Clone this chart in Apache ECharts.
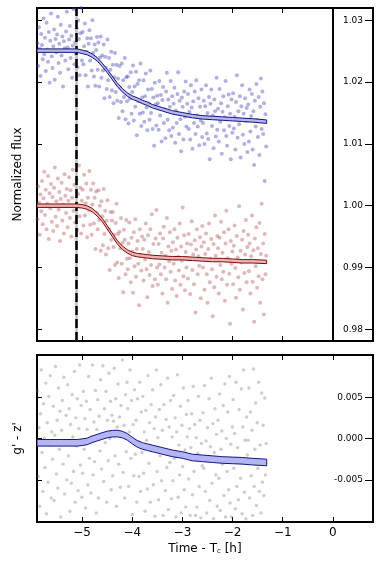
<!DOCTYPE html>
<html><head><meta charset="utf-8">
<script src="https://cdn.jsdelivr.net/npm/echarts@6/dist/echarts.min.js"></script>
<style>html,body{margin:0;padding:0;background:#fff}#c{width:383px;height:561px}</style>
</head><body><div id="c"></div>
<script>
const t = [
-5.89,-5.875,-5.86,-5.845,-5.83,-5.815,-5.8,-5.785,-5.77,-5.755,-5.74,-5.725,-5.71,-5.695,-5.68,-5.665,-5.65,-5.635,-5.62,-5.605,
-5.59,-5.575,-5.56,-5.545,-5.53,-5.515,-5.5,-5.485,-5.47,-5.455,-5.44,-5.425,-5.41,-5.395,-5.38,-5.365,-5.35,-5.335,-5.32,-5.305,
-5.29,-5.275,-5.26,-5.245,-5.23,-5.215,-5.2,-5.185,-5.17,-5.155,-5.14,-5.125,-5.11,-5.095,-5.08,-5.065,-5.05,-5.035,-5.02,-5.005,
-4.99,-4.975,-4.96,-4.945,-4.93,-4.915,-4.9,-4.885,-4.87,-4.855,-4.84,-4.825,-4.81,-4.795,-4.78,-4.765,-4.75,-4.735,-4.72,-4.705,
-4.69,-4.675,-4.66,-4.645,-4.63,-4.615,-4.6,-4.585,-4.57,-4.555,-4.54,-4.525,-4.51,-4.495,-4.48,-4.465,-4.45,-4.435,-4.42,-4.405,
-4.39,-4.375,-4.36,-4.345,-4.33,-4.315,-4.3,-4.285,-4.27,-4.255,-4.24,-4.225,-4.21,-4.195,-4.18,-4.165,-4.15,-4.135,-4.12,-4.105,
-4.09,-4.075,-4.06,-4.045,-4.03,-4.015,-4,-3.985,-3.97,-3.955,-3.94,-3.925,-3.91,-3.895,-3.88,-3.865,-3.85,-3.835,-3.82,-3.805,
-3.79,-3.775,-3.76,-3.745,-3.73,-3.715,-3.7,-3.685,-3.67,-3.655,-3.64,-3.625,-3.61,-3.595,-3.58,-3.565,-3.55,-3.535,-3.52,-3.505,
-3.49,-3.475,-3.46,-3.445,-3.43,-3.415,-3.4,-3.385,-3.37,-3.355,-3.34,-3.325,-3.31,-3.295,-3.28,-3.265,-3.25,-3.235,-3.22,-3.205,
-3.19,-3.175,-3.16,-3.145,-3.13,-3.115,-3.1,-3.085,-3.07,-3.055,-3.04,-3.025,-3.01,-2.995,-2.98,-2.965,-2.95,-2.935,-2.92,-2.905,
-2.89,-2.875,-2.86,-2.845,-2.83,-2.815,-2.8,-2.785,-2.77,-2.755,-2.74,-2.725,-2.71,-2.695,-2.68,-2.665,-2.65,-2.635,-2.62,-2.605,
-2.59,-2.575,-2.56,-2.545,-2.53,-2.515,-2.5,-2.485,-2.47,-2.455,-2.44,-2.425,-2.41,-2.395,-2.38,-2.365,-2.35,-2.335,-2.32,-2.305,
-2.29,-2.275,-2.26,-2.245,-2.23,-2.215,-2.2,-2.185,-2.17,-2.155,-2.14,-2.125,-2.11,-2.095,-2.08,-2.065,-2.05,-2.035,-2.02,-2.005,
-1.99,-1.975,-1.96,-1.945,-1.93,-1.915,-1.9,-1.885,-1.87,-1.855,-1.84,-1.825,-1.81,-1.795,-1.78,-1.765,-1.75,-1.735,-1.72,-1.705,
-1.69,-1.675,-1.66,-1.645,-1.63,-1.615,-1.6,-1.585,-1.57,-1.555,-1.54,-1.525,-1.51,-1.495,-1.48,-1.465,-1.45,-1.435,-1.42,-1.405,
-1.39,-1.375,-1.36,-1.345,-1.33];

const gFlux = [
1.0263,1.0226,1.0289,1.0254,1.0210,1.0278,1.0260,1.0237,1.0303,1.0245,1.0272,1.0218,1.0296,1.0253,1.0233,1.0281,1.0199,1.0267,1.0311,1.0242,
1.0223,1.0258,1.0285,1.0204,1.0270,1.0248,1.0277,1.0306,1.0231,1.0262,1.0215,1.0293,1.0243,1.0274,1.0193,1.0266,1.0255,1.0235,1.0282,1.0314,
1.0256,1.0221,1.0269,1.0291,1.0239,1.0275,1.0207,1.0259,1.0318,1.0229,1.0264,1.0246,1.0287,1.0224,1.0300,1.0270,1.0211,1.0279,1.0320,1.0235,
1.0281,1.0229,1.0258,1.0295,1.0211,1.0249,1.0271,1.0193,1.0262,1.0284,1.0235,1.0271,1.0219,1.0300,1.0247,1.0209,1.0261,1.0194,1.0252,1.0273,
1.0220,1.0264,1.0193,1.0240,1.0274,1.0207,1.0243,1.0219,1.0261,1.0174,1.0241,1.0223,1.0189,1.0269,1.0203,1.0239,1.0176,1.0220,1.0249,1.0187,
1.0228,1.0166,1.0208,1.0247,1.0184,1.0228,1.0170,1.0206,1.0142,1.0226,1.0191,1.0168,1.0230,1.0153,1.0203,1.0176,1.0239,1.0140,1.0208,1.0169,
1.0209,1.0133,1.0192,1.0173,1.0216,1.0149,1.0184,1.0227,1.0138,1.0193,1.0160,1.0217,1.0114,1.0197,1.0169,1.0203,1.0149,1.0230,1.0129,1.0175,
1.0151,1.0203,1.0136,1.0177,1.0214,1.0159,1.0122,1.0188,1.0166,1.0139,1.0219,1.0150,1.0189,1.0124,1.0175,1.0097,1.0199,1.0164,1.0130,1.0178,
1.0166,1.0123,1.0202,1.0146,1.0179,1.0104,1.0171,1.0192,1.0134,1.0156,1.0109,1.0185,1.0215,1.0139,1.0172,1.0122,1.0160,1.0202,1.0113,1.0177,
1.0126,1.0165,1.0191,1.0102,1.0154,1.0134,1.0181,1.0216,1.0116,1.0170,1.0140,1.0088,1.0175,1.0160,1.0107,1.0185,1.0144,1.0201,1.0128,1.0165,
1.0181,1.0124,1.0152,1.0107,1.0195,1.0159,1.0092,1.0169,1.0134,1.0185,1.0116,1.0203,1.0146,1.0128,1.0174,1.0098,1.0160,1.0138,1.0188,1.0111,
1.0134,1.0170,1.0100,1.0161,1.0195,1.0117,1.0150,1.0108,1.0176,1.0075,1.0165,1.0188,1.0129,1.0146,1.0093,1.0172,1.0153,1.0112,1.0207,1.0123,
1.0157,1.0104,1.0189,1.0136,1.0166,1.0084,1.0152,1.0177,1.0122,1.0143,1.0202,1.0113,1.0097,1.0161,1.0180,1.0129,1.0149,1.0075,1.0172,1.0118,
1.0182,1.0125,1.0144,1.0091,1.0168,1.0211,1.0110,1.0153,1.0132,1.0177,1.0078,1.0161,1.0195,1.0115,1.0149,1.0100,1.0174,1.0137,1.0158,1.0087,
1.0164,1.0104,1.0188,1.0120,1.0145,1.0181,1.0091,1.0153,1.0066,1.0170,1.0128,1.0197,1.0139,1.0111,1.0176,1.0082,1.0160,1.0206,1.0124,1.0185,
1.0116,1.0166,1.0040,1.0148,1.0096];

const zFlux = [
0.9978,1.0031,1.0005,0.9953,1.0018,0.9991,1.0040,0.9970,1.0012,1.0055,0.9985,1.0026,0.9962,1.0003,1.0048,0.9946,1.0020,0.9996,1.0035,0.9974,
1.0014,0.9959,1.0029,1.0062,0.9982,1.0007,0.9967,1.0044,0.9994,1.0022,0.9943,1.0011,1.0037,0.9976,1.0002,0.9955,1.0051,1.0016,0.9988,1.0027,
0.9965,1.0008,1.0046,0.9980,1.0025,0.9950,1.0013,1.0058,0.9992,1.0034,0.9973,1.0001,1.0042,0.9961,1.0019,1.0065,0.9983,1.0029,0.9955,1.0008,
1.0026,0.9968,1.0050,0.9984,1.0004,1.0036,0.9949,1.0013,0.9993,1.0056,0.9969,1.0026,0.9953,1.0002,1.0036,0.9971,1.0013,0.9930,1.0023,0.9988,
0.9962,1.0025,0.9977,1.0000,0.9927,1.0007,0.9983,0.9936,1.0027,0.9954,0.9992,0.9921,0.9976,1.0009,0.9931,0.9962,0.9896,0.9990,0.9945,0.9976,
0.9990,0.9933,0.9953,0.9904,0.9972,1.0003,0.9908,0.9954,0.9883,0.9958,0.9931,0.9980,0.9906,0.9940,0.9860,0.9961,0.9945,0.9889,0.9977,0.9914,
0.9897,0.9939,0.9973,0.9915,0.9876,0.9948,0.9926,0.9859,0.9957,0.9902,0.9978,0.9885,0.9930,0.9943,0.9906,0.9839,0.9962,0.9920,0.9895,0.9950,
0.9930,0.9879,0.9945,0.9913,0.9971,0.9897,0.9852,0.9952,0.9925,0.9888,0.9962,0.9904,0.9986,0.9870,0.9938,0.9916,0.9881,0.9947,0.9993,0.9900,
0.9872,0.9938,0.9905,0.9955,0.9889,0.9924,0.9858,0.9947,0.9966,0.9900,0.9919,0.9881,0.9980,0.9843,0.9934,0.9910,0.9957,0.9893,0.9927,0.9865,
0.9941,0.9906,0.9962,0.9879,0.9929,0.9854,0.9948,0.9917,0.9895,0.9971,0.9872,0.9934,0.9911,0.9997,0.9886,0.9952,0.9863,0.9925,0.9900,0.9939,
0.9882,0.9954,0.9913,0.9857,0.9937,0.9975,0.9896,0.9921,0.9873,0.9944,0.9827,0.9929,0.9962,0.9889,0.9918,0.9903,0.9949,0.9850,0.9934,0.9967,
0.9900,0.9941,0.9864,0.9922,0.9955,0.9889,0.9843,0.9930,0.9971,0.9876,0.9914,0.9946,0.9897,0.9821,0.9938,0.9868,0.9984,0.9919,0.9885,0.9951,
0.9931,0.9858,0.9948,0.9904,0.9974,0.9881,0.9924,0.9893,0.9957,0.9846,0.9939,0.9992,0.9872,0.9915,0.9962,0.9890,0.9809,0.9943,0.9906,0.9926,
0.9873,0.9935,0.9968,0.9899,0.9851,0.9951,0.9916,0.9884,0.9999,0.9864,0.9927,0.9908,0.9945,0.9832,0.9959,0.9891,0.9921,0.9977,0.9876,0.9933,
0.9953,0.9894,0.9939,0.9858,0.9918,0.9984,0.9877,0.9928,0.9812,0.9947,0.9902,0.9965,0.9867,0.9931,0.9886,0.9972,0.9843,0.9922,1.0003,0.9881,
0.9939,0.9824,0.9954,0.9889,0.9919];

const gzColor = [
0.0058,-0.0046,0.0013,-0.0082,0.0030,0.0083,-0.0017,-0.0064,0.0042,0.0000,-0.0035,0.0067,-0.0091,0.0019,-0.0053,0.0051,-0.0008,0.0076,-0.0072,0.0008,
-0.0025,0.0039,-0.0075,0.0004,0.0087,-0.0043,0.0022,-0.0060,0.0061,-0.0013,0.0033,-0.0095,0.0010,0.0046,-0.0031,0.0074,-0.0067,-0.0003,0.0028,-0.0050,
0.0065,-0.0021,0.0036,-0.0088,0.0017,-0.0054,0.0053,0.0002,-0.0040,0.0081,-0.0077,0.0025,-0.0009,0.0048,-0.0063,0.0012,0.0089,-0.0032,0.0040,-0.0071,
-0.0042,0.0057,-0.0013,0.0024,-0.0084,0.0045,0.0011,-0.0056,0.0075,-0.0024,0.0035,-0.0066,0.0002,0.0089,-0.0044,0.0020,-0.0028,0.0058,-0.0090,0.0011,
0.0047,-0.0072,0.0027,-0.0015,0.0071,-0.0037,0.0006,0.0088,-0.0052,0.0036,-0.0005,0.0057,-0.0077,0.0022,-0.0027,0.0079,0.0000,0.0045,-0.0062,0.0028,
-0.0045,0.0021,0.0085,-0.0021,0.0048,-0.0082,0.0014,0.0066,-0.0031,0.0026,-0.0059,0.0040,0.0003,0.0095,-0.0041,0.0016,-0.0072,0.0053,-0.0016,0.0068,
0.0036,-0.0058,0.0008,0.0083,-0.0024,0.0046,-0.0092,0.0017,-0.0045,0.0059,-0.0019,0.0022,-0.0077,0.0048,-0.0004,-0.0046,0.0068,-0.0064,0.0032,-0.0017,
0.0051,-0.0042,0.0008,-0.0088,0.0034,-0.0002,-0.0061,0.0076,-0.0030,0.0019,-0.0077,0.0041,-0.0015,0.0059,-0.0056,0.0012,-0.0094,0.0026,0.0083,-0.0040,
0.0001,-0.0074,0.0035,-0.0021,0.0065,-0.0051,0.0010,-0.0093,0.0041,-0.0014,-0.0063,0.0023,-0.0035,0.0073,-0.0086,0.0014,-0.0029,0.0046,-0.0073,0.0002,
-0.0051,0.0052,-0.0024,0.0025,-0.0095,0.0008,0.0077,-0.0071,-0.0008,-0.0044,0.0039,-0.0090,0.0016,-0.0034,0.0061,-0.0062,-0.0014,-0.0083,0.0029,0.0002,
0.0046,-0.0049,0.0012,-0.0093,-0.0011,0.0030,-0.0068,0.0063,-0.0040,0.0017,-0.0093,0.0001,-0.0083,-0.0018,0.0051,-0.0058,0.0022,-0.0096,-0.0006,-0.0033,
0.0031,-0.0036,0.0064,-0.0064,-0.0003,-0.0090,0.0013,-0.0027,0.0048,-0.0075,-0.0010,0.0073,-0.0054,0.0018,-0.0097,-0.0017,0.0036,-0.0044,0.0005,-0.0082,
0.0022,-0.0048,0.0054,-0.0087,-0.0013,0.0009,-0.0031,0.0040,-0.0069,0.0066,-0.0095,0.0000,-0.0040,0.0032,-0.0062,0.0075,-0.0078,-0.0007,-0.0095,0.0014,
0.0047,-0.0036,0.0006,-0.0085,0.0068,-0.0058,-0.0011,-0.0074,0.0035,-0.0025,-0.0048,0.0060,-0.0091,0.0014,0.0083,-0.0065,-0.0002,-0.0097,0.0026,-0.0020,
-0.0002,0.0061,-0.0072,0.0032,-0.0045,0.0010,-0.0093,0.0084,-0.0058,-0.0013,0.0043,-0.0081,0.0019,-0.0036,0.0068,-0.0064,-0.0008,-0.0090,0.0055,-0.0053,
0.0016,-0.0069,0.0049,-0.0044,-0.0006];

const modelT = [-5.9,-5.1,-5.0,-4.9,-4.8,-4.7,-4.6,-4.5,-4.4,-4.3,-4.2,-4.1,-4.0,-3.9,-3.8,-3.7,-3.6,-3.4,-3.2,-3.0,-2.8,-2.6,-2.4,-2.2,-2.0,-1.8,-1.6,-1.32];
const gModel = [1.0251,1.0251,1.0249,1.0247,1.0243,1.0237,1.0228,1.0218,1.0207,1.0196,1.0187,1.0180,1.0175,1.0172,1.0168,1.0165,1.0161,1.0156,1.0151,1.0148,1.0145,1.0143,1.0142,1.0141,1.0140,1.0139,1.0138,1.0136];
const zModel = [1.0000,1.0000,0.9999,0.9997,0.9993,0.9986,0.9977,0.9965,0.9953,0.9941,0.9932,0.9926,0.9922,0.9920,0.9919,0.9918,0.9917,0.9916,0.9915,0.9915,0.9914,0.9913,0.9912,0.9912,0.9911,0.9910,0.9910,0.9909];
const cModel = [-0.00052,-0.00052,-0.00045,-0.00035,-0.0001,0.0001,0.0003,0.00048,0.00058,0.0006,0.00048,0.0002,-0.00025,-0.00065,-0.0009,-0.00105,-0.0012,-0.0015,-0.0018,-0.0020,-0.0023,-0.0024,-0.0025,-0.0026,-0.00265,-0.0027,-0.0028,-0.0029];

const fluxTicks = [0.98, 0.99, 1.00, 1.01, 1.02, 1.03];
const colorTicks = [-0.005, 0, 0.005];
const timeTicks = [-5, -4, -3, -2, -1, 0];
const ingressTime = -5.12;
const midTime = 0;

const font = 'DejaVu Sans';
const chart = echarts.init(document.getElementById('c'), null, {renderer: 'canvas'});
const pts = (xs, ys) => xs.map((x, i) => [x, ys[i]]);

function band(ys, hw, xi, yi, edge, fill) {
  return {
    type: 'custom', xAxisIndex: xi, yAxisIndex: yi, coordinateSystem: 'cartesian2d',
    data: [[modelT[0], ys[0]]], z: 5, silent: true, animation: false, clip: true,
    renderItem: (params, api) => {
      const up = modelT.map((x, i) => api.coord([x, ys[i] + hw]));
      const lo = modelT.map((x, i) => api.coord([x, ys[i] - hw]));
      return {type: 'polygon', shape: {points: up.concat(lo.slice().reverse())},
        style: {fill: fill, stroke: edge, lineWidth: 1}};
    }
  };
}

const xCommon = (gi, pos, labels) => ({
  gridIndex: gi, type: 'value', min: -5.9, max: 0.8, position: pos,
  axisLine: {show: false, onZero: false}, splitLine: {show: false},
  axisTick: {show: true, inside: true, length: 5, customValues: timeTicks, lineStyle: {color: '#000', width: 1}},
  axisLabel: labels ? {show: true, customValues: timeTicks, fontSize: 12, fontFamily: font, color: '#000', margin: 5,
    formatter: v => v < 0 ? '\u2212' + Math.abs(v) : String(v)} : {show: false}
});

const yCommon = (gi, pos, mn, mx, ticks, labelFmt) => ({
  gridIndex: gi, type: 'value', min: mn, max: mx, position: pos,
  axisLine: {show: false, onZero: false}, splitLine: {show: false},
  axisTick: {show: true, inside: true, length: labelFmt ? 8 : 5, customValues: ticks, lineStyle: {color: '#000', width: 1}},
  axisLabel: labelFmt ? {show: true, inside: true, customValues: ticks, margin: 10, fontSize: 9, fontFamily: font, color: '#000',
    formatter: labelFmt} : {show: false}
});

const option = {
  animation: false,
  backgroundColor: '#fff',
  grid: [
    {left: 37, right: 10, top: 8, height: 333, show: true, borderColor: '#000', borderWidth: 2, backgroundColor: 'transparent'},
    {left: 37, right: 10, top: 355, height: 167, show: true, borderColor: '#000', borderWidth: 2, backgroundColor: 'transparent'}
  ],
  xAxis: [
    xCommon(0, 'bottom', false),
    xCommon(0, 'top', false),
    Object.assign(xCommon(1, 'bottom', true), {
      name: 'Time - T{sub|c} [h]', nameLocation: 'middle', nameGap: 21,
      nameTextStyle: {fontSize: 12, fontFamily: font, color: '#000',
        rich: {sub: {fontSize: 7, fontFamily: font, color: '#000', verticalAlign: 'bottom', padding: [5, 0, 0, 0]}}}
    }),
    xCommon(1, 'top', false)
  ],
  yAxis: [
    yCommon(0, 'right', 0.9781, 1.032, fluxTicks, v => v.toFixed(2)),
    Object.assign(yCommon(0, 'left', 0.9781, 1.032, fluxTicks, null), {
      name: 'Normalized flux', nameLocation: 'middle', nameGap: 13,
      nameTextStyle: {fontSize: 12, fontFamily: font, color: '#000'}}),
    yCommon(1, 'right', -0.0101, 0.0101, colorTicks, v => v.toFixed(3)),
    Object.assign(yCommon(1, 'left', -0.0101, 0.0101, colorTicks, null), {
      name: "g' - z'", nameLocation: 'middle', nameGap: 13,
      nameTextStyle: {fontSize: 12, fontFamily: font, color: '#000'}})
  ],
  series: [
    {type: 'scatter', xAxisIndex: 0, yAxisIndex: 0, data: pts(t, gFlux), symbolSize: 4, clip: true, silent: true, z: 2,
     itemStyle: {color: 'rgba(60,60,175,0.5)'}},
    {type: 'scatter', xAxisIndex: 0, yAxisIndex: 0, data: pts(t, zFlux), symbolSize: 4, clip: true, silent: true, z: 2,
     itemStyle: {color: 'rgba(165,60,60,0.45)'}},
    {type: 'scatter', xAxisIndex: 2, yAxisIndex: 2, data: pts(t, gzColor), symbolSize: 3.4, clip: true, silent: true, z: 2,
     itemStyle: {color: 'rgba(90,90,90,0.38)'}},
    band(gModel, 0.00028, 0, 0, '#15157a', '#b4b6ee'),
    band(zModel, 0.00028, 0, 0, '#7a0d0d', '#eeb0b0'),
    band(cModel, 0.0004, 2, 2, '#15157a', '#b3b5f5'),
    {type: 'line', xAxisIndex: 0, yAxisIndex: 0, data: [], z: 6, silent: true,
     markLine: {symbol: 'none', silent: true, label: {show: false}, animation: false,
       data: [
         {xAxis: ingressTime, lineStyle: {color: '#c0c0c0', width: 2.5, type: 'solid'}},
         {xAxis: ingressTime, lineStyle: {color: '#000', width: 2.5, type: [9, 4]}},
         {xAxis: midTime, lineStyle: {color: '#000', width: 2, type: 'solid'}}
       ]}}
  ]
};
chart.setOption(option);
</script>
</body></html>
